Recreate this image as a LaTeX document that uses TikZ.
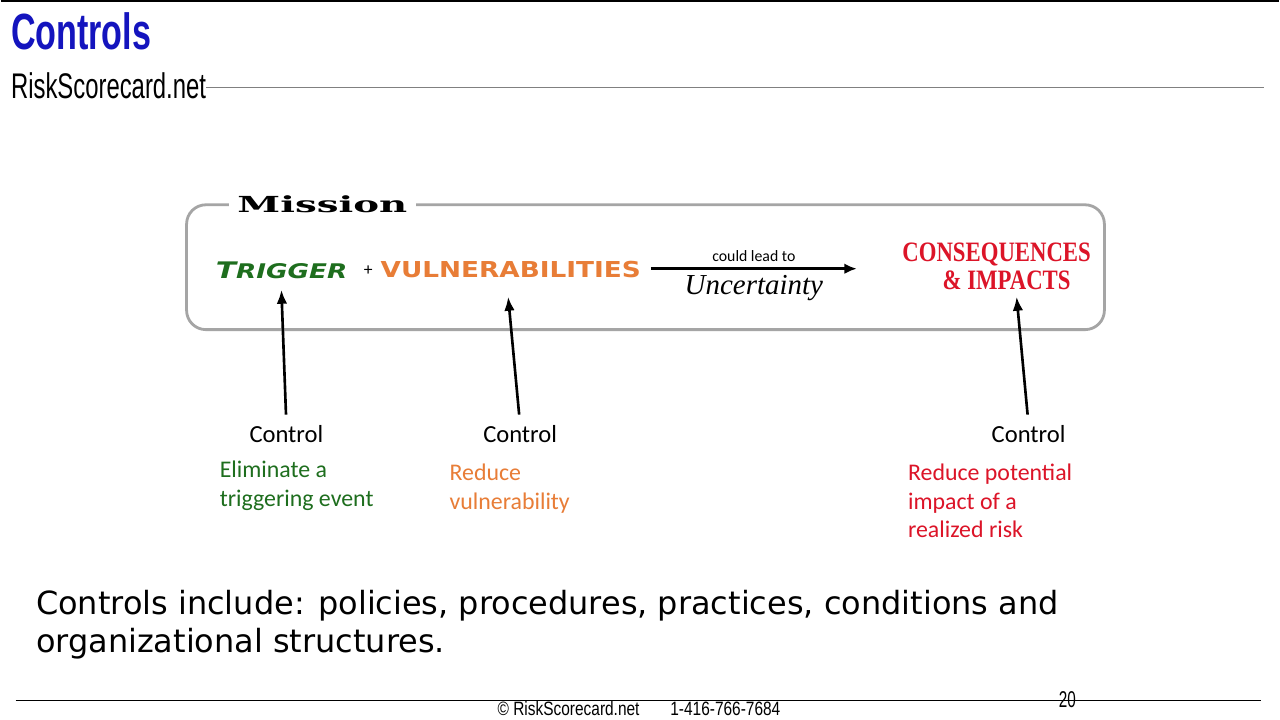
\documentclass[tikz,border=0pt]{standalone}
\usepackage{fontspec}
\setmainfont{Carlito}
\newfontfamily\headfont[FakeStretch=0.67]{Liberation Sans}
\newfontfamily\footfont[FakeStretch=0.8]{Liberation Sans}
\newfontfamily\slabfont[FakeStretch=1.75]{DejaVu Serif}
\newfontfamily\trigfont[FakeStretch=1.3]{DejaVu Sans}
\newfontfamily\widefont[FakeStretch=1.2]{DejaVu Sans}
\newfontfamily\capsfont[FakeStretch=0.81]{Liberation Serif}
\newfontfamily\plainfont{DejaVu Sans}
\newfontfamily\handfont{Liberation Serif}
\usetikzlibrary{arrows.meta,positioning}
\definecolor{titleblue}{RGB}{20,20,190}
\definecolor{boxgray}{RGB}{165,165,165}
\definecolor{ctlgreen}{RGB}{30,110,30}
\definecolor{ctlorange}{RGB}{232,125,55}
\definecolor{ctlred}{RGB}{220,20,40}

\begin{document}
\begin{tikzpicture}[x=0.02cm, y=-0.02cm,
      txt/.style={inner sep=0pt},
      ctl/.style={txt, anchor=base, font=\fontsize{14}{16.5}\selectfont},
      note/.style={txt, anchor=north west, align=left, font=\fontsize{13.6}{16.4}\selectfont},
      mbox/.style={draw=boxgray, line width=1.6pt, rounded corners=11pt},
      arr/.style={-{Latex[length=8pt,width=6pt]}, line width=1.5pt, shorten <=6pt},
      lead/.style={-{Latex[length=7pt,width=6pt]}, line width=1.6pt}]
    \fill[white] (0,0) rectangle (1280,720);
    \draw[line width=0.8pt] (0,1) -- (1280,1);
    \node[txt, anchor=base west, text=titleblue, font=\headfont\bfseries\fontsize{29}{32}\selectfont] (title) at (10,50) {Controls};
    \node[txt, anchor=base west, font=\headfont\fontsize{20.3}{23}\selectfont] (site) at (10,99) {RiskScorecard.net};
    \coordinate (siteend) at (1265,88);
    \draw[gray, line width=0.6pt] (site.east |- siteend) -- (siteend);

    \node[mbox, minimum width=18.38cm, minimum height=2.5cm] (mission) at (645.5,267.5) {};
    \node[anchor=base, fill=white, inner xsep=5pt, inner ysep=2pt, font=\slabfont\bfseries\fontsize{12.6}{14}\selectfont] (mlabel) at (322,213) {Mission};

    \node[txt, anchor=base west, text=ctlgreen, font=\trigfont\bfseries\itshape] (trigger) at (215,279) {\fontsize{13}{14}\selectfont T\fontsize{11.5}{13}\selectfont RIGGER};
    \node[txt, font=\fontsize{10}{12}\selectfont] (plus) at (368,271) {+};
    \node[txt, anchor=base west, text=ctlorange, font=\widefont\bfseries\fontsize{12.5}{14}\selectfont] (vuln) at (380,278) {VULNERABILITIES};

    \coordinate (leadfrom) at (651,269);
    \coordinate (leadto) at (857,269);
    \draw[lead] (leadfrom) -- (leadto)
      node[midway, above=3pt, inner sep=0pt, font=\fontsize{9}{11}\selectfont] {could lead to}
      node[midway, below=3pt, inner sep=0pt, font=\handfont\itshape\fontsize{16.5}{18}\selectfont] {Uncertainty};

    \node[txt, align=center, text=ctlred, font=\capsfont\bfseries\fontsize{16}{16}\selectfont] (conseq) at (997,267) {CONSEQUENCES\\\hspace*{0.4cm}\& IMPACTS};

    \node[ctl] (c1) at (286,443) {Control};
    \node[ctl] (c2) at (520,443) {Control};
    \node[ctl] (c3) at (1029,443) {Control};
    \coordinate (t1) at (281,290);
    \coordinate (t2) at (508,297);
    \coordinate (t3) at (1017,297);
    \draw[arr] (c1.north) -- (t1);
    \draw[arr] (c2.north) -- (t2);
    \draw[arr] (c3.north) -- (t3);

    \node[note, text=ctlgreen] (n1) at (219,461) {Eliminate a\\triggering event};
    \node[note, text=ctlorange] (n2) at (449,464) {Reduce\\vulnerability};
    \node[note, text=ctlred] (n3) at (908,464) {Reduce potential\\impact of a\\realized risk};

    \node[txt, anchor=north west, align=left, font=\plainfont\fontsize{18.2}{21.2}\selectfont] (summary) at (35,591) {Controls include: policies, procedures, practices, conditions and\\organizational structures.};

    \coordinate (footl) at (15,701);
    \coordinate (footr) at (1262,701);
    \draw[line width=0.6pt] (footl) -- (footr);
    \node[txt, anchor=base west, font=\headfont\fontsize{13}{15}\selectfont] (page) at (1059,708) {20};
    \node[txt, anchor=base, font=\footfont\fontsize{11}{12}\selectfont] (foot) at (639,716) {\textcopyright{} RiskScorecard.net\hspace{1.6em}1-416-766-7684};
\end{tikzpicture}
\end{document}
